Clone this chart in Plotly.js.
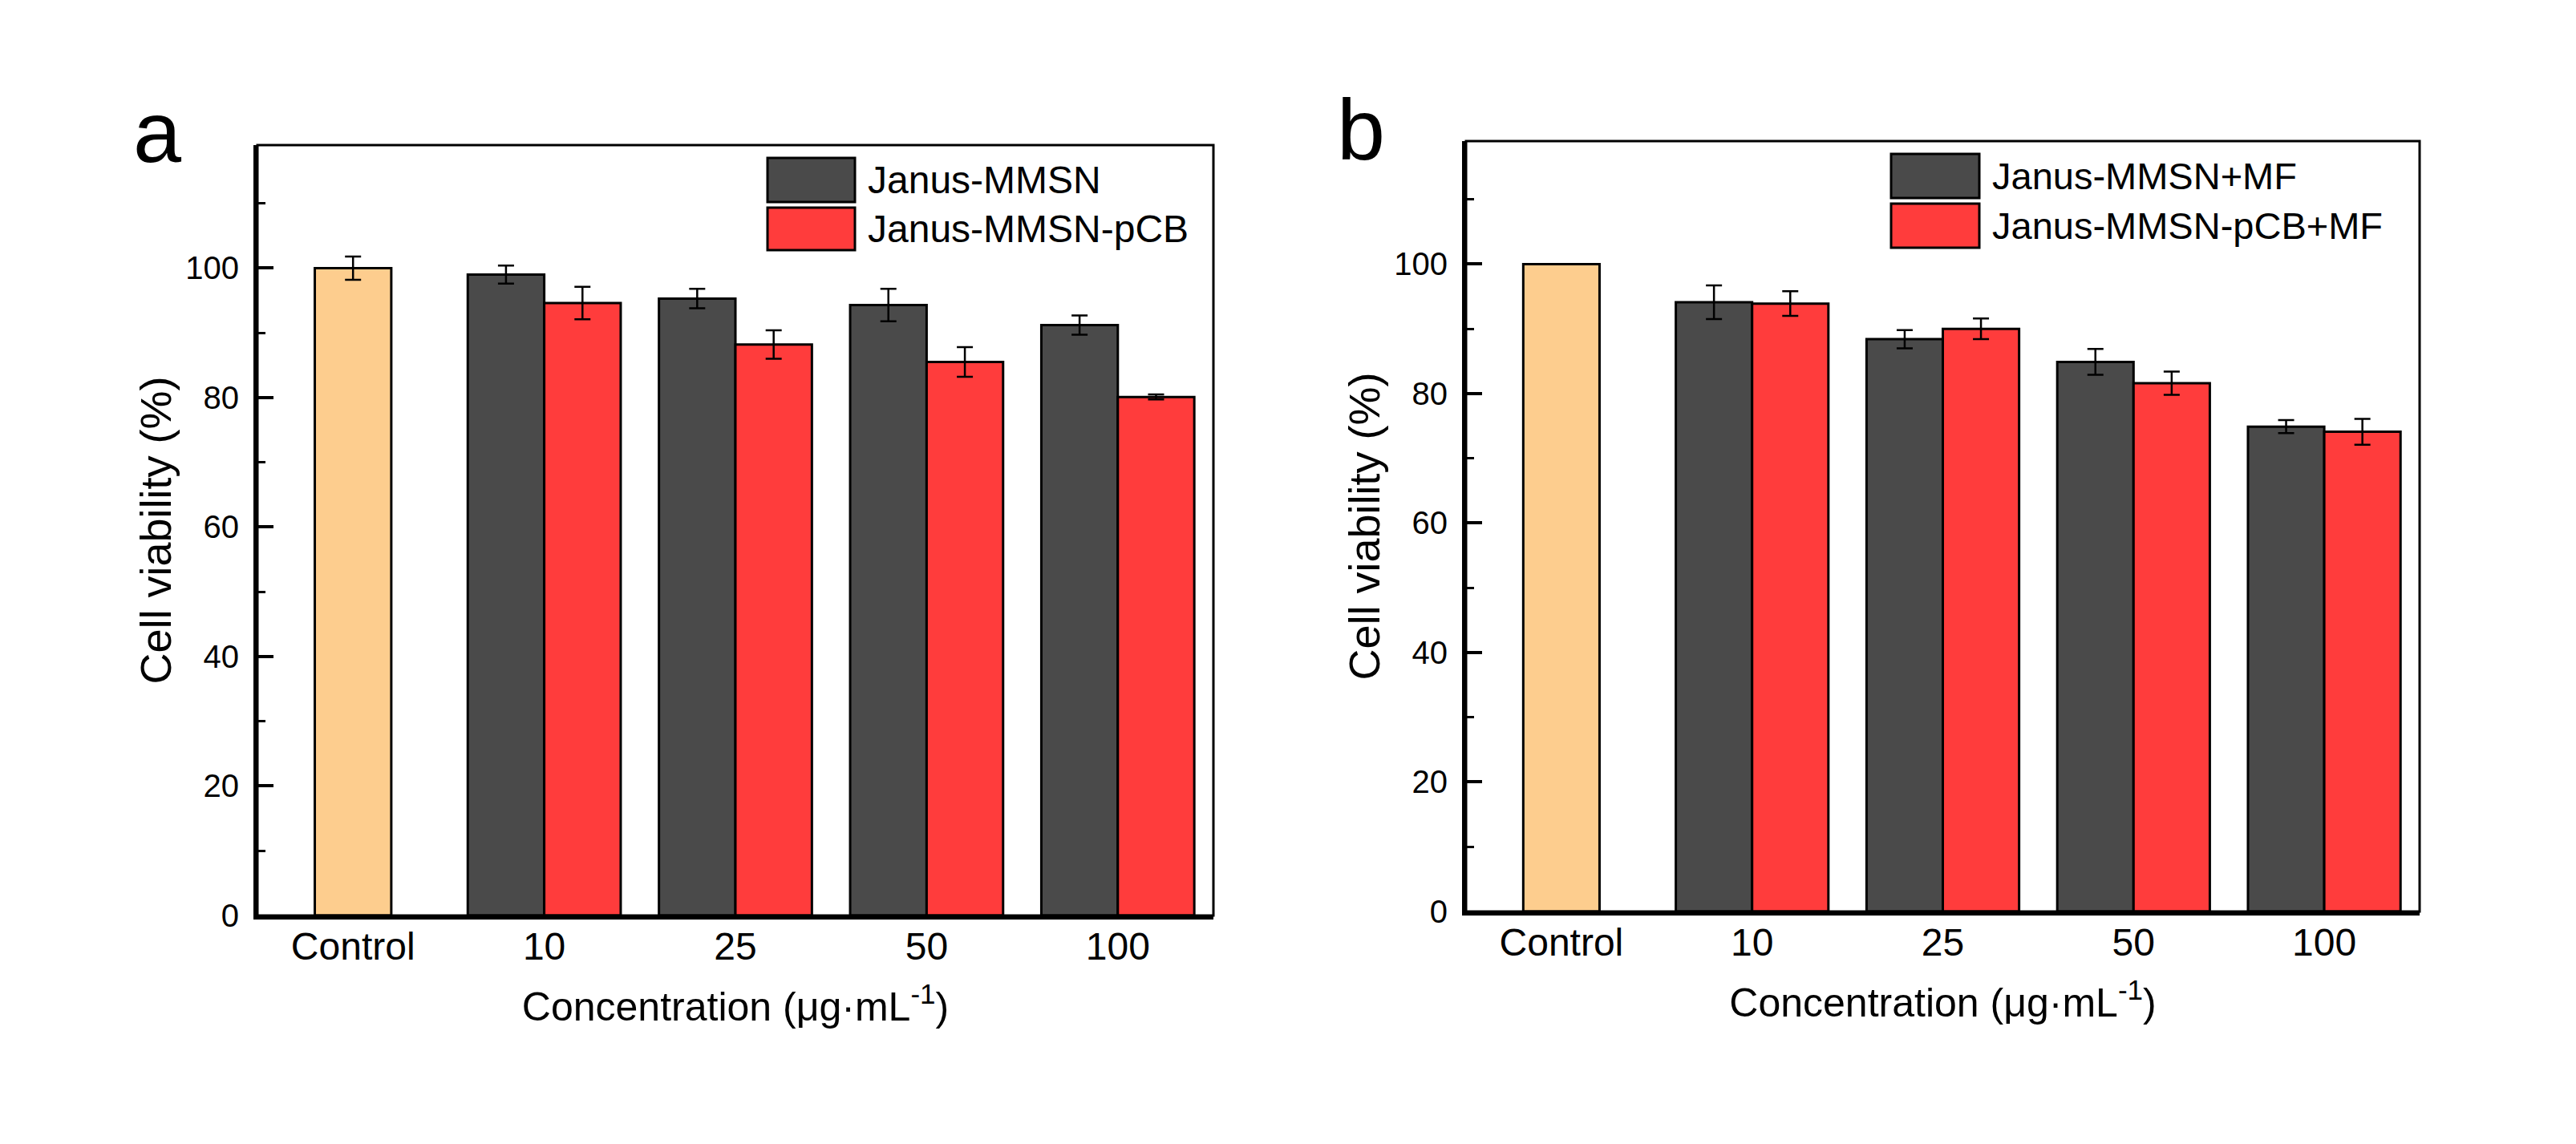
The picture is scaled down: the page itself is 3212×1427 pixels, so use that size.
<!DOCTYPE html>
<html>
<head>
<meta charset="utf-8">
<script src="https://cdn.plot.ly/plotly-3.0.1.min.js"></script>
<style>
  html, body { margin: 0; padding: 0; background: #ffffff; }
  #chart { width: 3212px; height: 1427px; }
</style>
</head>
<body>
<div id="chart"></div>
<script>
// ---------------- data ----------------
const categories = ['Control', '10', '25', '50', '100'];
const concentrations = ['10', '25', '50', '100'];

// panel a
const controlA = [100.0];
const controlAErr = [1.8];
const janusA = [99.0, 95.3, 94.3, 91.2];
const janusAErr = [1.4, 1.5, 2.5, 1.5];
const janusPcbA = [94.6, 88.2, 85.5, 80.1];
const janusPcbAErr = [2.5, 2.2, 2.3, 0.4];

// panel b
const controlB = [100.0];
const controlBErr = [0];
const janusB = [94.1, 88.4, 84.9, 74.9];
const janusBErr = [2.6, 1.4, 2.0, 1.0];
const janusPcbB = [93.9, 90.0, 81.6, 74.1];
const janusPcbBErr = [1.9, 1.6, 1.8, 2.0];

const seriesNamesA = ['Janus-MMSN', 'Janus-MMSN-pCB'];
const seriesNamesB = ['Janus-MMSN+MF', 'Janus-MMSN-pCB+MF'];

// ---------------- style ----------------
const W = 3212, H = 1427;
const FONT = 'Arial, "Liberation Sans", sans-serif';
const C_CTRL = '#FDCD8E';
const C_GRAY = '#4A4A4A';
const C_RED = '#FF3C3C';
const BAR_W = 0.4;

function errObj(arr) {
  return { type: 'data', array: arr, visible: true, color: '#000', thickness: 2.5, width: 10 };
}
function bar(x, y, err, color, offset, xa, ya, name) {
  return {
    type: 'bar', x: x, y: y, name: name, width: BAR_W, offset: offset,
    marker: { color: color, line: { color: '#000', width: 3 } },
    error_y: errObj(err), xaxis: xa, yaxis: ya, showlegend: false
  };
}

const traces = [
  bar(['Control'], controlA, controlAErr, C_CTRL, -BAR_W / 2, 'x', 'y', 'Control'),
  bar(concentrations, janusA, janusAErr, C_GRAY, -BAR_W, 'x', 'y', seriesNamesA[0]),
  bar(concentrations, janusPcbA, janusPcbAErr, C_RED, 0, 'x', 'y', seriesNamesA[1]),
  bar(['Control'], controlB, controlBErr, C_CTRL, -BAR_W / 2, 'x2', 'y2', 'Control'),
  bar(concentrations, janusB, janusBErr, C_GRAY, -BAR_W, 'x2', 'y2', seriesNamesB[0]),
  bar(concentrations, janusPcbB, janusPcbBErr, C_RED, 0, 'x2', 'y2', seriesNamesB[1])
];

const px = x => x / W;
const py = y => 1 - y / H;

function xAxis(domain, anchor) {
  return {
    domain: domain, anchor: anchor, type: 'category',
    categoryorder: 'array', categoryarray: categories,
    range: [-0.5, 4.5], showline: true, linecolor: '#000', linewidth: 5,
    ticks: '', showgrid: false, zeroline: false,
    tickfont: { family: FONT, size: 48, color: '#000' },
    ticklabelstandoff: -8,
    title: { text: 'Concentration (μg·mL<sup>-1</sup>)', font: { family: FONT, size: 50, color: '#000' }, standoff: 34 }
  };
}
function yAxis(domain, anchor) {
  return {
    domain: domain, anchor: anchor, range: [0, 119],
    showline: true, linecolor: '#000', linewidth: 5,
    ticks: 'inside', ticklen: 20, tickwidth: 4, tickcolor: '#000',
    tick0: 0, dtick: 20,
    minor: { dtick: 10, ticks: 'inside', ticklen: 10, tickwidth: 3, tickcolor: '#000' },
    showgrid: false, zeroline: false,
    tickfont: { family: FONT, size: 40, color: '#000' },
    ticklabelstandoff: 10,
    title: { text: 'Cell viability (%)', font: { family: FONT, size: 54, color: '#000' }, standoff: 2 }
  };
}

const domXA = [px(321), px(1513)];
const domXB = [px(1828), px(3017)];
const domYA = [py(1142), py(181)];
const domYB = [py(1137), py(176)];

const shapes = [
  // frames (top/right thinner)
  { type: 'rect', xref: 'x domain', yref: 'y domain', x0: 0, x1: 1, y0: 0, y1: 1, line: { color: '#000', width: 3 }, layer: 'above' },
  { type: 'rect', xref: 'x2 domain', yref: 'y2 domain', x0: 0, x1: 1, y0: 0, y1: 1, line: { color: '#000', width: 3 }, layer: 'above' }
];
const annotations = [];

// legends (drawn as swatches + text)
function legend(items, sx0, sx1, rows, tx, size) {
  items.forEach((it, i) => {
    const r = rows[i];
    shapes.push({ type: 'rect', xref: 'paper', yref: 'paper', x0: px(sx0), x1: px(sx1), y0: py(r[1]), y1: py(r[0]),
      fillcolor: it.color, line: { color: '#000', width: 3 } });
    annotations.push({ xref: 'paper', yref: 'paper', x: px(tx), y: py((r[0] + r[1]) / 2), xanchor: 'left', yanchor: 'middle',
      text: it.name, showarrow: false, font: { family: FONT, size: size, color: '#000' } });
  });
}
legend([{ name: seriesNamesA[0], color: C_GRAY }, { name: seriesNamesA[1], color: C_RED }],
  957, 1066, [[197, 252], [259, 312]], 1080, 48);
legend([{ name: seriesNamesB[0], color: C_GRAY }, { name: seriesNamesB[1], color: C_RED }],
  2358, 2468, [[192, 247], [254, 309]], 2482, 47);

// panel letters
annotations.push({ xref: 'paper', yref: 'paper', x: px(196), y: py(165), xanchor: 'center', yanchor: 'middle',
  text: 'a', showarrow: false, font: { family: FONT, size: 108, color: '#000' } });
annotations.push({ xref: 'paper', yref: 'paper', x: px(1697), y: py(161), xanchor: 'center', yanchor: 'middle',
  text: 'b', showarrow: false, font: { family: FONT, size: 108, color: '#000' } });

const layout = {
  width: W, height: H,
  margin: { l: 0, r: 0, t: 0, b: 0 },
  paper_bgcolor: '#ffffff', plot_bgcolor: '#ffffff',
  barmode: 'overlay', showlegend: false,
  font: { family: FONT, color: '#000' },
  xaxis: xAxis(domXA, 'y'),
  yaxis: yAxis(domYA, 'x'),
  xaxis2: xAxis(domXB, 'y2'),
  yaxis2: yAxis(domYB, 'x2'),
  shapes: shapes,
  annotations: annotations
};

Plotly.newPlot('chart', traces, layout, { displayModeBar: false, staticPlot: true });
</script>
</body>
</html>
